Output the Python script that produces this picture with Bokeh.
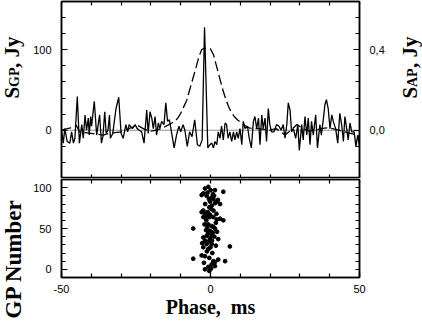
import math
from bokeh.plotting import figure
from bokeh.models import LinearAxis, Range1d, FixedTicker, Span, CustomJSTickFormatter
from bokeh.layouts import column, row
from bokeh.embed import file_html
from bokeh.resources import INLINE
from bokeh.core.properties import value

# ---- single giant pulse (solid), Jy vs phase (ms)
gp_phase = [-50.0, -49.4, -48.9, -48.1, -47.2, -46.6, -46.0, -45.5, -44.7, -44.0, -43.2, -42.7,
            -42.1, -41.6, -41.0, -40.7, -40.2, -39.9, -39.0, -38.2, -37.7, -37.2, -36.6, -36.1,
            -35.5, -35.0, -34.4, -33.9, -33.6, -32.8, -31.7, -30.8, -30.0, -29.3, -28.4, -27.8,
            -27.3, -26.2, -25.3, -24.6, -23.9, -23.1, -22.3, -21.4, -20.9, -20.3, -19.7, -19.2,
            -18.6, -18.1, -17.5, -17.0, -16.4, -15.6, -15.0, -14.4, -13.8, -13.1, -12.2, -11.4,
            -10.6, -10.0, -9.2, -8.6, -7.8, -7.0, -6.2, -5.3, -4.4, -3.6, -2.8, -2.0, -0.9,
            -0.2, 0.4, 1.0, 1.5, 2.1, 2.6, 3.2, 3.7, 4.3, 4.9, 5.4, 5.9, 6.5, 7.1, 7.7, 8.2,
            8.8, 9.3, 9.9, 10.5, 11.0, 11.6, 12.4, 13.0, 13.7, 14.4, 14.9, 15.5, 16.1, 16.6,
            17.2, 17.7, 18.3, 18.8, 19.4, 19.9, 20.5, 21.3, 22.2, 23.0, 23.7, 24.4, 25.0, 25.6,
            26.1, 26.7, 27.2, 27.8, 28.6, 29.3, 29.8, 30.6, 31.1, 31.7, 32.3, 32.8, 33.4, 33.9,
            34.5, 35.3, 35.9, 36.7, 37.2, 37.9, 38.4, 38.9, 39.5, 40.1, 40.7, 41.2, 42.0, 42.7,
            43.4, 44.0, 44.6, 45.1, 45.7, 46.2, 46.8, 47.4, 48.2, 48.8, 49.4, 50.0]
gp_flux = [0, -16, 2, -14, -16, -2, -16, -10, 42, -16, 7, -10,
           19, 0, 15, -6, 17, 5, 36, -6, 7, 19, -16, -8,
           23, -4, 0, 19, -10, -4, 27, 41, -4, -10, 7, -2,
           7, 2, 7, 2, 0, -2, -16, 25, -4, 23, 15, 2,
           17, -6, 9, 2, 11, 7, 34, 11, 13, -2, -22, -6,
           5, -2, 7, 0, -20, -2, -8, 13, -18, -20, -12, 128, -22,
           -18, -16, -22, -14, -18, -2, -10, 5, -12, 9, 7, -10, -2, -14, -2, -12,
           -2, -10, 2, -18, 11, 2, 5, -10, -22, 11, 17, 2, 15, -18,
           19, 2, 15, -14, 27, 7, -2, -2, 7, 5, 0, 7, -10, 7,
           34, 25, -2, 2, -10, 7, -25, 7, -12, 17, -6, 15, -18, 11,
           -6, 19, -22, 7, -6, 15, 32, 38, 27, 2, 19, 11, 2, -16,
           21, 7, -14, 17, 2, -12, 9, -2, -2, -20, -6, -20]

# ---- average profile (dashed), Jy on left scale
ap_phase = [-50, -47, -45, -44, -42, -40, -38, -36, -34, -32, -30, -28, -26, -25, -23, -22,
            -20, -18, -16, -15, -14, -13, -12, -11, -10, -9, -8, -7, -6, -5, -4, -3, -2, -1,
            0, 1, 2, 3, 4, 5, 6, 7, 8, 9, 10, 11, 12, 13, 14, 16, 18, 20, 22, 24, 25, 27,
            29, 31, 33, 35, 37, 39, 41, 43, 45, 47, 49, 50]
ap_flux = [0, 3, 6, -2, -3, -4, -5, -6, -4, -3, -2, 1, 4, 7, 3, 1,
           -1, 0, 3, 5, 7, 9, 11, 15, 21, 29, 37, 50, 63, 76, 90, 100, 102, 102,
           101, 94, 80, 66, 52, 40, 30, 22, 17, 13, 10, 7, 5, 3, 2, 2, 1, 0, 2, -3, -6, 0,
           7, 2, -1, 0, 2, 3, 2, 0, -2, -4, -6, -8]

# ---- GP arrival phases vs GP number
gpn_phase = [-1.85, -0.73, 0.05, 1.5, 4.3, -2.4, -2.96, -1.3, 0.4, 0.95, 2.1, -0.17, 3.2, 1.5,
             0.4, -0.4, -2.4, -2.96, -1.85, -1.3, -0.17, -2.4, 0.95, -1.5, 2.1, 3.2, 4.3, -5.8,
             -0.73, 0.4, -1.06, 1.5, -0.17, 0.73, 0.4, -1.3, -2.4, -0.17, 2.6, -1.85, -0.73,
             -1.3, 0.4, -2.4, 6.5, -0.73, -2.96, -1.85, -5.8, 0.95, 1.5, 0.4, 4.9, -0.73, -1.85,
             -0.4, -1.0, 0.8, 1.2, -0.5, 2.5, -1.8, 0.2, 1.0, -1.0, 2.0, -0.3, 1.8, -2.0, 0.9,
             -1.5, 2.2, -0.8, 1.3, -2.8, 1.8, 0.0, -1.2, 0.6, -0.4, 2.6, -2.2, 1.5, 0.2, -1.4, 0.5]
gpn_num = [99, 101, 97, 97, 95, 93, 91, 90, 88, 86, 83, 83, 80, 81,
           78, 76, 72, 70, 68, 66, 67, 64, 64, 62, 61, 62, 60, 50,
           55, 53, 51, 50, 47, 45, 42, 41, 39, 38, 37, 35, 34,
           31, 31, 27, 28, 25, 17, 16, 13, 10, 9, 6, 10, 3, 0,
           -2, 94, 92, 90, 86, 85, 80, 74, 72, 70, 68, 64, 57, 55, 52,
           48, 46, 44, 40, 32, 29, 27, 22, 20, 14, 12, 8, 4, 1, 60, 35]

x_major = [-50, 0, 50]
x_minor = [-50, -40, -30, -20, -10, 0, 10, 20, 30, 40, 50]
top_major = [0, 100]
top_minor = [-60, -40, -20, 0, 20, 40, 60, 80, 100, 120, 140, 160]
ap_major = [0.0, 0.4]
ap_minor = [-0.24, -0.16, -0.08, 0.0, 0.08, 0.16, 0.24, 0.32, 0.4, 0.48, 0.56, 0.64]
bot_major = [0, 50, 100]
bot_minor = [-10, 0, 10, 20, 30, 40, 50, 60, 70, 80, 90, 100, 110]

# axis titles (rotated), split where the font size changes
left_title = ["S", "GP", ", Jy"]
right_title = ["S", "AP", ", Jy"]
bottom_left_title = "GP Number"
x_title = "Phase,\u00a0 ms"

SANS = "Liberation Sans"
SERIF = "Liberation Serif"
SIDE = 26           # width of the strips holding rotated titles
MAIN_W = 422 - 2 * SIDE
TOP_H = 178
BOT_H = 143
TOTAL_H = TOP_H + BOT_H


def style_axis(ax, labels=True, tin=6, mtin=4):
    ax.axis_line_color = "black"
    ax.axis_line_width = 1.5
    ax.major_tick_in = tin
    ax.major_tick_out = 0
    ax.minor_tick_in = mtin
    ax.minor_tick_out = 0
    ax.major_tick_line_color = "black"
    ax.minor_tick_line_color = "black"
    ax.major_tick_line_width = 1.2
    ax.minor_tick_line_width = 1.2
    ax.major_label_text_font = SANS
    ax.major_label_text_font_size = "11px"
    ax.major_label_text_color = "black"
    ax.major_label_standoff = 10 if labels else 0


def tick_only_axis(minor, **kw):
    ax = LinearAxis(ticker=FixedTicker(ticks=[], minor_ticks=minor), **kw)
    style_axis(ax, False)
    return ax


def base_fig(height, yr, mbb):
    f = figure(width=MAIN_W, height=height, x_range=Range1d(-50, 50), y_range=yr,
               output_backend="svg", toolbar_location=None,
               x_axis_location=None, y_axis_location=None,
               min_border_left=61 - SIDE, min_border_right=(422 - SIDE) - 359,
               min_border_top=1, min_border_bottom=mbb)
    f.xgrid.visible = False
    f.ygrid.visible = False
    f.outline_line_color = "black"
    f.outline_line_width = 1.5
    f.background_fill_color = "white"
    f.border_fill_color = "white"
    return f


int_fmt = CustomJSTickFormatter(code="return String(tick);")

# ---------------- top panel
top = base_fig(TOP_H, Range1d(-60, 160), 0)
top.extra_y_ranges = {"ap": Range1d(-0.24, 0.64)}

ax = LinearAxis(ticker=FixedTicker(ticks=top_major, minor_ticks=top_minor), formatter=int_fmt)
style_axis(ax, True)
top.add_layout(ax, "left")

ax = LinearAxis(y_range_name="ap", ticker=FixedTicker(ticks=ap_major, minor_ticks=ap_minor),
                formatter=CustomJSTickFormatter(code="return tick.toFixed(1).replace('.', ',');"))
style_axis(ax, True)
top.add_layout(ax, "right")

top.add_layout(tick_only_axis(x_minor), "above")
top.add_layout(tick_only_axis(x_minor), "below")

top.add_layout(Span(location=0, dimension="width", line_color="#8c8c8c", line_width=1, level="underlay"))
top.line(ap_phase, ap_flux, line_color="black", line_width=1.3, line_dash="10 4")
top.line(gp_phase, gp_flux, line_color="black", line_width=1.3)

# ---------------- bottom panel
bot = base_fig(BOT_H, Range1d(-10, 110), 44)

ax = LinearAxis(ticker=FixedTicker(ticks=bot_major, minor_ticks=bot_minor), formatter=int_fmt)
style_axis(ax, True)
bot.add_layout(ax, "left")

bot.add_layout(tick_only_axis(bot_minor), "right")
bot.add_layout(tick_only_axis(x_minor), "above")

ax = LinearAxis(ticker=FixedTicker(ticks=x_major, minor_ticks=x_minor), formatter=int_fmt)
style_axis(ax, True)
ax.major_label_standoff = 7
ax.axis_label = x_title
ax.axis_label_text_font = SERIF
ax.axis_label_text_font_size = "20px"
ax.axis_label_text_font_style = "bold"
ax.axis_label_text_color = "black"
ax.axis_label_standoff = 0
bot.add_layout(ax, "below")

bot.scatter(gpn_phase, gpn_num, size=3.8, color="black")


# ---------------- strips with rotated titles (pixel-space ranges, y up from the bottom)
def strip():
    f = figure(width=SIDE, height=TOTAL_H, x_range=Range1d(0, SIDE), y_range=Range1d(0, TOTAL_H),
               output_backend="svg", toolbar_location=None,
               x_axis_location=None, y_axis_location=None,
               min_border_left=0, min_border_right=0, min_border_top=0, min_border_bottom=0)
    f.xgrid.visible = False
    f.ygrid.visible = False
    f.outline_line_color = None
    f.border_fill_color = "white"
    f.background_fill_color = "white"
    return f


def rot_text(f, baseline_x, y_from_top, text, size_px):
    # text centred on its body: centre sits ~0.335 em left of the (rotated) baseline
    f.text(x=[baseline_x - 0.335 * size_px], y=[TOTAL_H - y_from_top], text=[text],
           angle=math.pi / 2,
           text_font=value(SERIF), text_font_size=value(f"{size_px}px"), text_font_style="bold",
           text_color="black", text_align="left", text_baseline="middle")


left = strip()
rot_text(left, 19, 98, left_title[0], 21)
rot_text(left, 19, 86.5, left_title[1], 14)
rot_text(left, 19, 67.5, left_title[2], 21)
rot_text(left, 20.5, 318, bottom_left_title, 23)

right = strip()
rot_text(right, 21, 98, right_title[0], 21)
rot_text(right, 21, 86.5, right_title[1], 14)
rot_text(right, 21, 67.5, right_title[2], 21)

layout = row(left, column(top, bot, spacing=0), right, spacing=0)

open("out.html", "w").write(file_html(layout, INLINE))
